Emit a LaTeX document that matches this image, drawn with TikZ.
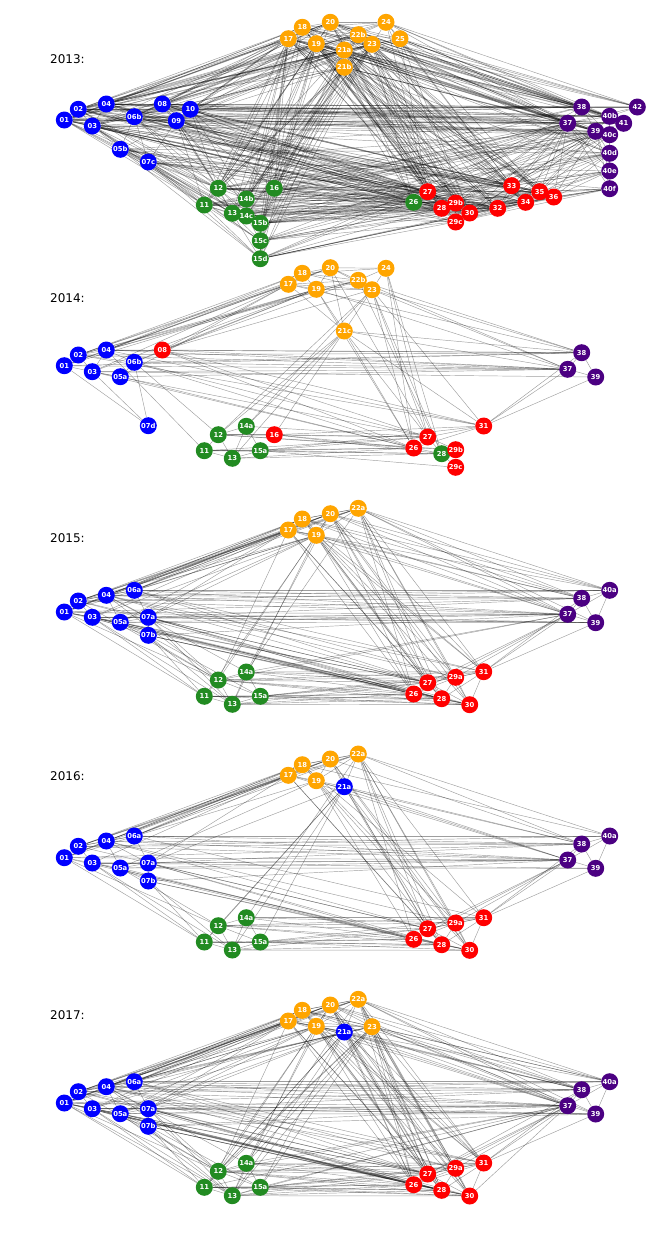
\documentclass[tikz,border=0pt]{standalone}
\usepackage{fontspec}
\setmainfont{DejaVu Sans}
\usetikzlibrary{backgrounds}

\definecolor{nxblue}{RGB}{0,0,255}
\definecolor{nxorange}{RGB}{255,165,0}
\definecolor{nxgreen}{RGB}{34,139,34}
\definecolor{nxred}{RGB}{255,0,0}
\definecolor{nxpurple}{RGB}{75,0,130}

\tikzset{
  vtx/.style={circle, minimum size=17pt, inner sep=0pt, text=white,
    font=\fontsize{6.8}{7}\selectfont\bfseries},
  edge/.style={draw=black, draw opacity=0.38, line width=0.45pt},
  yearlbl/.style={anchor=west, inner sep=0pt, font=\fontsize{12}{14}\selectfont}
}

\begin{document}
\begin{tikzpicture}[x=1pt, y=-1pt]
\useasboundingbox (0,0) rectangle (664,1235);

\node[yearlbl] (y13) at (50,59.3) {2013:};
\node[yearlbl] (y14) at (50,298.3) {2014:};
\node[yearlbl] (y15) at (50,537.7) {2015:};
\node[yearlbl] (y16) at (50,775.7) {2016:};
\node[yearlbl] (y17) at (50,1015) {2017:};

% 2013
\foreach \n/\x/\y/\c in {01/64.3/120/nxblue, 02/78.3/109.3/nxblue, 03/92.3/126/nxblue,
  04/106.3/104/nxblue, 05b/120.3/149.3/nxblue, 06b/134.3/116.7/nxblue, 07c/148.3/162/nxblue,
  08/162.3/104/nxblue, 09/176.3/120.7/nxblue, 10/190.3/109.3/nxblue,
  11/204.3/205/nxgreen, 12/218.3/188.3/nxgreen, 13/232.3/213.3/nxgreen, 14b/246.3/199/nxgreen,
  14c/246.3/216/nxgreen, 15b/260.3/223.3/nxgreen, 15c/260.3/240.7/nxgreen, 15d/260.3/258.7/nxgreen,
  16/274.3/188.3/nxgreen,
  17/288.3/38.7/nxorange, 18/302.3/27.3/nxorange, 19/316.3/43.7/nxorange, 20/330.3/22.3/nxorange,
  21a/344.3/50/nxorange, 21b/344.3/67.3/nxorange, 22b/358.3/34.7/nxorange, 23/372/44.3/nxorange,
  24/386/22.3/nxorange, 25/400/38.7/nxorange,
  26/413.7/202.3/nxgreen, 27/427.7/191.7/nxred, 28/441.7/208.3/nxred, 29b/455.7/203/nxred,
  29c/455.7/222/nxred, 30/469.7/213/nxred, 32/497.7/208.3/nxred, 33/511.7/185.7/nxred,
  34/525.7/202.3/nxred, 35/539.7/191.7/nxred, 36/553.7/197/nxred,
  37/567.7/123.3/nxpurple, 38/581.7/107/nxpurple, 39/595.7/131.3/nxpurple, 40b/609.7/116.3/nxpurple,
  40c/609.7/134.7/nxpurple, 40d/609.7/153.3/nxpurple, 40e/609.7/171/nxpurple, 40f/609.7/188.7/nxpurple,
  41/623.7/123.3/nxpurple, 42/637.3/107/nxpurple}
  {\node[vtx, fill=\c] (p13-\n) at (\x,\y) {\n};}

\begin{pgfonlayer}{background}
\foreach \s/\tl in {
  01/{02,03,04,06b,05b,07c,08,09,10,11,12,13,17,18,19,20,21a,22b,23,27,28,30,32,33,35,37,38,39,40b,41},
  02/{03,04,06b,08,10,09,12,14b,15b,17,18,19,20,21a,21b,22b,23,24,26,27,29b,32,34,36,37,38,40b,40c,42},
  03/{04,05b,06b,07c,09,11,12,13,14c,15c,17,19,21a,21b,23,26,27,28,29c,30,32,33,35,37,39,40c,40d},
  04/{06b,08,09,10,17,18,19,20,21a,22b,23,25,27,28,30,33,34,37,38,40b,41,42},
  05b/{06b,07c,09,11,12,13,15b,15d,26,27,28,32,34,37,40d,40f},
  06b/{08,09,10,07c,12,13,14b,17,19,20,21b,23,26,27,29b,30,33,35,36,37,38,39,40b,40c},
  07c/{09,11,12,13,14c,15c,15d,26,27,28,29c,32,34,36,39,40e},
  08/{09,10,12,16,17,18,19,20,21a,22b,23,24,27,28,29b,33,35,37,38,40b,41},
  09/{10,11,12,13,14b,15b,17,19,21a,21b,23,26,27,28,30,32,34,36,37,39,40c,40d},
  10/{12,14b,16,17,18,20,21a,22b,23,25,27,29b,30,33,35,37,38,40b,41,42},
  11/{12,13,14b,15b,15c,15d,17,19,21b,26,27,28,29c,30,32,37,39,40d,40f},
  12/{13,14b,14c,16,15b,17,18,19,20,21a,21b,23,26,27,28,29b,30,32,33,34,37,38,39,40c},
  13/{14b,14c,15b,15c,15d,17,19,21b,23,26,27,28,30,32,34,35,37,40d,40e},
  14b/{14c,15b,16,17,18,19,21a,21b,22b,23,26,27,29b,30,33,36,37,39,40c},
  14c/{15b,15c,17,19,21b,23,26,28,29c,32,34,37,40f},
  15b/{15c,15d,16,17,19,21a,21b,23,26,27,28,30,32,34,35,36,37,39,40d,40e},
  15c/{15d,17,21b,23,26,27,28,29c,32,35,37,40f},
  15d/{17,19,21b,23,26,27,28,29c,30,32,34,36,37},
  16/{17,18,19,20,21a,21b,22b,23,26,27,29b,30,33,35,37,38,40c},
  17/{18,19,20,21a,21b,22b,23,24,27,28,29b,30,32,33,34,37,38,39,40b,40c,41},
  18/{19,20,21a,22b,23,24,27,28,30,33,35,37,38,40b,42},
  19/{20,21a,21b,22b,23,26,27,28,29b,29c,30,32,34,36,37,38,39,40c,40d},
  20/{21a,22b,23,24,25,27,28,30,33,35,37,38,40b,41,42},
  21a/{21b,22b,23,26,27,28,29b,30,32,33,34,35,36,37,38,39,40b,40c,40d},
  21b/{22b,23,26,27,28,29c,30,32,34,36,37,39,40c,40e},
  22b/{23,24,25,27,28,29b,30,33,35,37,38,40b,41,42},
  23/{24,25,26,27,28,29b,30,32,33,34,35,36,37,38,39,40b,40c,40d,41},
  24/{25,27,30,33,37,38,40b,42},
  25/{27,30,33,35,37,38,40b,41,42},
  26/{27,28,29b,29c,30,32,34,37,39,40d},
  27/{28,29b,30,32,33,35,37,38,39,40c,40d},
  28/{29b,29c,30,32,34,36,37,39,40e},
  29b/{29c,30,32,33,35,37,39,40c},
  29c/{30,32,34,36,40f},
  30/{32,33,34,35,36,37,39,40d},
  32/{33,34,35,37,39,40e,40f},
  33/{34,35,36,37,39,40c,40d,40e},
  34/{35,36,37,39,40d,40f},
  35/{36,37,39,40c,40e,40f},
  36/{37,39,40d,40e,40f},
  37/{38,39,40b,40c,40d,40e,40f,41,42},
  38/{39,40b,40c,41,42},
  39/{40b,40c,40d,40e,40f,41},
  40b/{40c,41,42}, 40c/{40d,41}, 40d/{40e}, 40e/{40f}}
  {\foreach \t in \tl {\draw[edge] (p13-\s) -- (p13-\t);}}
\end{pgfonlayer}

% 2014
\foreach \n/\x/\y/\c in {01/64.3/365.7/nxblue, 02/78.3/355/nxblue, 03/92.3/371.7/nxblue,
  04/106.3/350/nxblue, 05a/120.3/376.7/nxblue, 06b/134.3/362.3/nxblue, 07d/148.3/425.7/nxblue,
  08/162.3/350/nxred,
  11/204.3/450.7/nxgreen, 12/218.3/434.7/nxgreen, 13/232.3/458.3/nxgreen, 14a/246.3/426.3/nxgreen,
  15a/260.3/450.7/nxgreen, 16/274.3/434.7/nxred,
  17/288.3/284.3/nxorange, 18/302.3/273.3/nxorange, 19/316.3/289.3/nxorange, 20/330.3/267.7/nxorange,
  21c/344.3/331/nxorange, 22b/358.3/280.3/nxorange, 23/372/289.7/nxorange, 24/386/268.3/nxorange,
  26/413.7/448/nxred, 27/427.7/437/nxred, 28/441.7/453.7/nxgreen, 29b/455.7/449.7/nxred,
  29c/455.7/467.3/nxred, 31/483.7/426/nxred,
  37/567.7/369.3/nxpurple, 38/581.7/352.7/nxpurple, 39/595.7/377/nxpurple}
  {\node[vtx, fill=\c] (p14-\n) at (\x,\y) {\n};}

\begin{pgfonlayer}{background}
\foreach \s/\tl in {
  01/{02,03,04,07d,17,19,37,38},
  02/{03,04,06b,17,18,19,20,22b,37,38,31},
  03/{04,05a,07d,17,19,26,27,37,39},
  04/{06b,08,11,17,18,19,22b,20,37,38,31},
  05a/{06b,17,37,26},
  06b/{07d,12,08,19,38,37,27,26},
  08/{17,19,22b,23,38,37,31,27,26},
  11/{12,13,15a,26,27,28},
  12/{13,14a,16,21c,23,26,27,29b},
  13/{14a,15a,21c,26,28},
  14a/{15a,23,21c,27},
  15a/{26,27,28,29c,31},
  16/{21c,26,27,28,31},
  17/{18,19,20,21c,22b,23,38},
  18/{19,20,22b,23,24},
  19/{20,21c,22b,23,26,37},
  20/{22b,23,24,21c,27},
  21c/{23,27,31,37,38,26},
  22b/{23,24,37,38,28},
  23/{24,26,27,28,31,37,38},
  24/{27,28,26},
  26/{27,28,29b,31}, 27/{28,29b,31}, 28/{29b,29c},
  31/{37,38,39}, 37/{38,39}, 38/{39}}
  {\foreach \t in \tl {\draw[edge] (p14-\s) -- (p14-\t);}}
\end{pgfonlayer}

% 2015
\foreach \n/\x/\y/\c in {01/64.3/612/nxblue, 02/78.3/601/nxblue, 03/92.3/617.3/nxblue,
  04/106.3/595.3/nxblue, 05a/120.3/622.3/nxblue, 06a/134.3/590.3/nxblue, 07a/148.3/617.3/nxblue,
  07b/148.3/635.3/nxblue,
  11/204.3/696.3/nxgreen, 12/218.3/680/nxgreen, 13/232.3/704.3/nxgreen, 14a/246.3/672/nxgreen,
  15a/260.3/696.3/nxgreen,
  17/288.3/530/nxorange, 18/302.3/519/nxorange, 19/316.3/535.3/nxorange, 20/330.3/513.7/nxorange,
  22a/358.3/508.3/nxorange,
  26/413.7/694/nxred, 27/427.7/682.7/nxred, 28/441.7/698.7/nxred, 29a/455.7/677.3/nxred,
  30/469.7/704.7/nxred, 31/483.7/671.7/nxred,
  37/567.7/614.3/nxpurple, 38/581.7/598.3/nxpurple, 39/595.7/622.7/nxpurple, 40a/609.7/590.3/nxpurple}
  {\node[vtx, fill=\c] (p15-\n) at (\x,\y) {\n};}

\begin{pgfonlayer}{background}
\foreach \s/\tl in {
  01/{02,03,04,05a,17,18,19,20,11,12,37,38,39,26,27},
  02/{03,04,06a,17,18,19,20,22a,12,37,38,40a,27,28},
  03/{05a,07a,07b,11,13,17,19,26,28,30,37,39},
  04/{06a,05a,07a,17,18,20,22a,12,14a,37,38,40a,27,29a,31},
  05a/{07a,07b,12,17,19,26,27,28,37,39},
  06a/{07a,17,18,19,20,22a,37,38,40a,27,29a,31},
  07a/{07b,17,19,12,13,26,27,28,30,37,38,39},
  07b/{11,13,15a,26,28,30,37},
  11/{12,13,15a,19,26,28,30},
  12/{13,14a,15a,17,20,26,27,28,29a,30,31,37},
  13/{15a,14a,19,26,27,28,30},
  14a/{15a,22a,20,26,27,29a,31,37},
  15a/{26,27,28,29a,30,31},
  17/{18,19,20,22a,26,27,28,37,38,40a},
  18/{19,20,22a,27,29a,31,37,38,40a},
  19/{20,22a,26,27,28,30,31,37,38},
  20/{22a,26,27,28,29a,30,31,37,38,40a},
  22a/{26,27,28,29a,30,31,37,38,39,40a},
  26/{27,28,29a,30,37}, 27/{28,29a,30,31,37}, 28/{29a,30,31}, 29a/{30,31,37}, 30/{31},
  31/{37,38,39}, 37/{38,39,40a}, 38/{39,40a}, 39/{40a}}
  {\foreach \t in \tl {\draw[edge] (p15-\s) -- (p15-\t);}}
\end{pgfonlayer}

% 2016
\foreach \n/\x/\y/\c in {01/64.3/857.7/nxblue, 02/78.3/846.3/nxblue, 03/92.3/863/nxblue,
  04/106.3/841/nxblue, 05a/120.3/868/nxblue, 06a/134.3/836/nxblue, 07a/148.3/863/nxblue,
  07b/148.3/881/nxblue,
  11/204.3/942/nxgreen, 12/218.3/925.7/nxgreen, 13/232.3/950/nxgreen, 14a/246.3/917.7/nxgreen,
  15a/260.3/942/nxgreen,
  17/288.3/775.3/nxorange, 18/302.3/764.7/nxorange, 19/316.3/780.7/nxorange, 20/330.3/759/nxorange,
  21a/344.3/786.7/nxblue, 22a/358.3/754/nxorange,
  26/413.7/939.3/nxred, 27/427.7/928.7/nxred, 28/441.7/944.7/nxred, 29a/455.7/923/nxred,
  30/469.7/950.3/nxred, 31/483.7/917.7/nxred,
  37/567.7/860/nxpurple, 38/581.7/844/nxpurple, 39/595.7/868.3/nxpurple, 40a/609.7/836/nxpurple}
  {\node[vtx, fill=\c] (p16-\n) at (\x,\y) {\n};}

\begin{pgfonlayer}{background}
\foreach \s/\tl in {
  01/{02,03,04,17,18,19,11,12,37,38,26},
  02/{03,04,06a,17,18,20,22a,37,38,40a,27},
  03/{05a,07a,11,13,17,37,39,28,30},
  04/{06a,05a,07a,17,18,20,37,38,27,29a},
  05a/{07a,07b,12,19,26,37,39},
  06a/{07a,17,18,20,22a,37,38,40a,31},
  07a/{07b,17,21a,26,27,28,37,38},
  07b/{11,13,26,30,37},
  11/{12,13,15a,21a,26,28},
  12/{13,14a,15a,21a,26,27,28,29a,31},
  13/{15a,14a,21a,27,28,30},
  14a/{15a,22a,26,29a,31},
  15a/{21a,26,27,28,30,31},
  17/{18,19,20,22a,27,28,37,38},
  18/{19,20,22a,29a,31,40a},
  19/{20,21a,22a,26,28,30,37},
  20/{22a,21a,27,29a,30,38},
  21a/{22a,27,28,30,37,38},
  22a/{26,27,28,29a,30,31,38,40a},
  26/{27,28,29a,30,37}, 27/{28,29a,30,31,37}, 28/{29a,30,31}, 29a/{30,31,37}, 30/{31},
  31/{37,38,39}, 37/{38,39,40a}, 38/{39,40a}, 39/{40a}}
  {\foreach \t in \tl {\draw[edge] (p16-\s) -- (p16-\t);}}
\end{pgfonlayer}

% 2017
\foreach \n/\x/\y/\c in {01/64.3/1103/nxblue, 02/78.3/1091.7/nxblue, 03/92.3/1108.7/nxblue,
  04/106.3/1086.7/nxblue, 05a/120.3/1113.7/nxblue, 06a/134.3/1081.7/nxblue, 07a/148.3/1108.7/nxblue,
  07b/148.3/1126.3/nxblue,
  11/204.3/1187.3/nxgreen, 12/218.3/1171.3/nxgreen, 13/232.3/1195.7/nxgreen, 14a/246.3/1163.3/nxgreen,
  15a/260.3/1187.3/nxgreen,
  17/288.3/1021/nxorange, 18/302.3/1010.3/nxorange, 19/316.3/1026.3/nxorange, 20/330.3/1005/nxorange,
  21a/344.3/1032/nxblue, 22a/358.3/999.3/nxorange, 23/372/1026.7/nxorange,
  26/413.7/1184.7/nxred, 27/427.7/1174/nxred, 28/441.7/1190.3/nxred, 29a/455.7/1168.3/nxred,
  30/469.7/1196/nxred, 31/483.7/1163/nxred,
  37/567.7/1105.7/nxpurple, 38/581.7/1089.7/nxpurple, 39/595.7/1114/nxpurple, 40a/609.7/1081.7/nxpurple}
  {\node[vtx, fill=\c] (p17-\n) at (\x,\y) {\n};}

\begin{pgfonlayer}{background}
\foreach \s/\tl in {
  01/{02,03,04,05a,17,18,19,20,21a,11,12,13,37,38,39,26,27,28},
  02/{03,04,06a,17,18,19,20,22a,23,12,37,38,40a,27,28,31},
  03/{05a,07a,07b,11,13,17,19,21a,26,28,30,37,39},
  04/{06a,05a,07a,17,18,20,22a,23,12,14a,37,38,40a,27,29a,31},
  05a/{07a,07b,12,13,17,19,21a,26,27,28,37,39},
  06a/{07a,17,18,19,20,22a,23,37,38,40a,27,29a,31},
  07a/{07b,17,19,21a,12,13,26,27,28,30,37,38,39},
  07b/{11,13,15a,26,28,30,37,39},
  11/{12,13,15a,19,21a,23,26,28,30,37},
  12/{13,14a,15a,17,20,21a,23,26,27,28,29a,30,31,37},
  13/{15a,14a,19,21a,23,26,27,28,30,37},
  14a/{15a,22a,20,23,26,27,29a,31,37},
  15a/{21a,23,26,27,28,29a,30,31,37},
  17/{18,19,20,21a,22a,23,26,27,28,37,38,40a},
  18/{19,20,22a,23,27,29a,31,37,38,40a},
  19/{20,21a,22a,23,26,27,28,30,31,37,38},
  20/{22a,21a,23,26,27,28,29a,30,31,37,38,40a},
  21a/{22a,23,26,27,28,30,31,37,38},
  22a/{23,26,27,28,29a,30,31,37,38,39,40a},
  23/{26,27,28,29a,30,31,37,38,39,40a},
  26/{27,28,29a,30,31,37}, 27/{28,29a,30,31,37,38}, 28/{29a,30,31}, 29a/{30,31,37},
  30/{31,37}, 31/{37,38,39}, 37/{38,39,40a}, 38/{39,40a}, 39/{40a}}
  {\foreach \t in \tl {\draw[edge] (p17-\s) -- (p17-\t);}}
\end{pgfonlayer}
\end{tikzpicture}
\end{document}
